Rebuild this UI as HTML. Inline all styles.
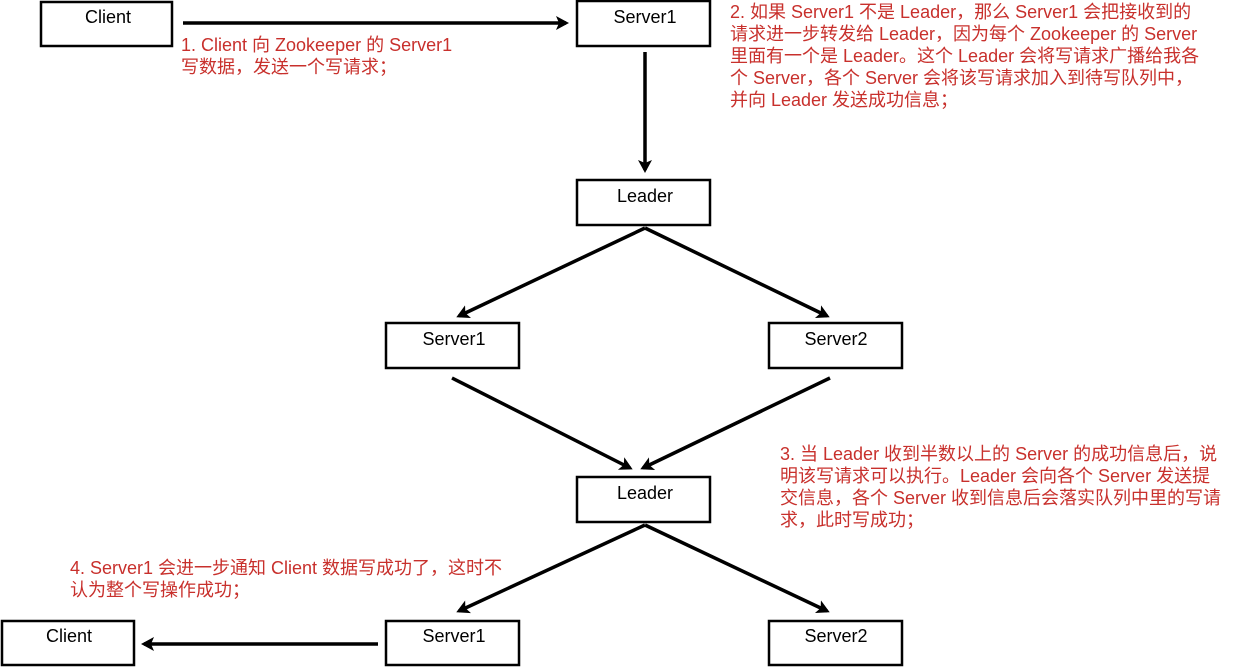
<!DOCTYPE html>
<html><head><meta charset="utf-8"><style>
body{margin:0;background:#fff;width:1234px;height:667px;overflow:hidden;position:relative;font-family:"Liberation Sans","Noto Sans CJK SC",sans-serif}
.t{position:absolute;color:#c8302c;font-size:18px;line-height:22px;white-space:nowrap}
</style></head><body>
<svg width="1234" height="667" style="position:absolute;left:0;top:0">
<defs><marker id="a" markerWidth="16" markerHeight="16" refX="10" refY="7" orient="auto" markerUnits="userSpaceOnUse"><path d="M0,0 L13,7 L0,14 L3,7 Z" fill="#000"/></marker></defs>
<g fill="#fff" stroke="#000" stroke-width="2.5">
<rect x="41" y="2" width="131" height="44"/>
<rect x="577" y="1" width="133" height="45"/>
<rect x="577" y="180" width="133" height="45"/>
<rect x="386" y="323" width="133" height="45"/>
<rect x="769" y="323" width="133" height="45"/>
<rect x="577" y="477" width="133" height="45"/>
<rect x="2" y="621" width="132" height="44"/>
<rect x="386" y="621" width="133" height="44"/>
<rect x="769" y="621" width="133" height="44"/>
</g>
<g stroke="#000" stroke-width="3.5" marker-end="url(#a)" fill="none">
<line x1="183" y1="23" x2="566" y2="23"/>
<line x1="645" y1="52" x2="645" y2="170"/>
<line x1="645" y1="228" x2="459" y2="316"/>
<line x1="645" y1="228" x2="827" y2="316"/>
<line x1="452" y1="378" x2="630" y2="468"/>
<line x1="830" y1="378" x2="643" y2="468"/>
<line x1="645" y1="525" x2="459" y2="611"/>
<line x1="645" y1="525" x2="827" y2="611"/>
<line x1="378" y1="644" x2="144" y2="644"/>
</g>
<g font-family="Liberation Sans, sans-serif" font-size="18" text-anchor="middle" fill="#000">
<text x="108" y="23">Client</text>
<text x="645" y="23">Server1</text>
<text x="645" y="202">Leader</text>
<text x="454" y="345">Server1</text>
<text x="836" y="345">Server2</text>
<text x="645" y="499">Leader</text>
<text x="69" y="642">Client</text>
<text x="454" y="642">Server1</text>
<text x="836" y="642">Server2</text>
</g>
</svg>
<div class="t" style="left:181px;top:34px">1. Client 向 Zookeeper 的 Server1<br>写数据，发送一个写请求；</div>
<div class="t" style="left:730px;top:1px">2. 如果 Server1 不是 Leader，那么 Server1 会把接收到的<br>请求进一步转发给 Leader，因为每个 Zookeeper 的 Server<br>里面有一个是 Leader。这个 Leader 会将写请求广播给我各<br>个 Server，各个 Server 会将该写请求加入到待写队列中，<br>并向 Leader 发送成功信息；</div>
<div class="t" style="left:780px;top:443px">3. 当 Leader 收到半数以上的 Server 的成功信息后，说<br>明该写请求可以执行。Leader 会向各个 Server 发送提<br>交信息，各个 Server 收到信息后会落实队列中里的写请<br>求，此时写成功；</div>
<div class="t" style="left:70px;top:557px">4. Server1 会进一步通知 Client 数据写成功了，这时不<br>认为整个写操作成功；</div>
</body></html>
